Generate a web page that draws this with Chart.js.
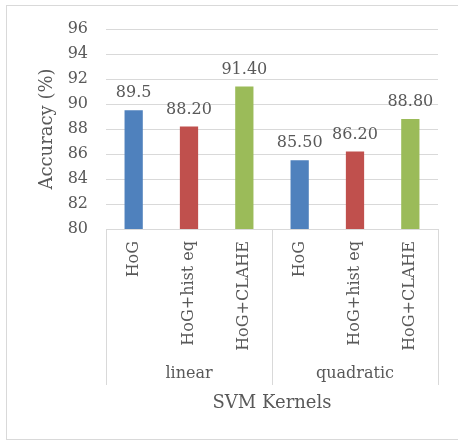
<!DOCTYPE html>
<html>
<head>
<meta charset="utf-8">
<script src="https://cdn.jsdelivr.net/npm/chart.js@4.4.1/dist/chart.umd.min.js"></script>
<style>
  html, body { margin: 0; padding: 0; background: #ffffff; }
  #wrap { width: 458px; height: 441px; }
</style>
</head>
<body>
<div id="wrap"><canvas id="chart" width="458" height="441"></canvas></div>
<script>
// Accuracy of each feature pipeline, grouped by SVM kernel
const kernels = ['linear', 'quadratic'];
const methods = ['HoG', 'HoG+hist eq', 'HoG+CLAHE'];
const categories = ['HoG', 'HoG+hist eq', 'HoG+CLAHE', 'HoG', 'HoG+hist eq', 'HoG+CLAHE'];
const accuracy = [89.5, 88.2, 91.4, 85.5, 86.2, 88.8];
const labelDecimals = [1, 2, 2, 2, 2, 2];
const yTicks = { min: 80, max: 96, step: 2 };

const methodColors = ['#4F81BD', '#C0504D', '#9BBB59'];
const textColor = '#595959';
const lineColor = '#D9D9D9';
const FONT = "'DejaVu Serif', 'Liberation Serif', serif";

// white background and the outer frame
const framePlugin = {
  id: 'frame',
  beforeDraw(chart) {
    const ctx = chart.ctx;
    ctx.save();
    ctx.fillStyle = '#ffffff';
    ctx.fillRect(0, 0, chart.width, chart.height);
    ctx.strokeStyle = lineColor;
    ctx.lineWidth = 1;
    ctx.strokeRect(6.5, 5.5, chart.width + 20, 434);
    ctx.restore();
  }
};

// vertical separators between the kernel groups below the plot
const groupSeparators = {
  id: 'groupSeparators',
  afterDraw(chart) {
    const g = chart.scales.group;
    const ctx = chart.ctx;
    const top = chart.chartArea.bottom;
    const bottom = g.top + 30;
    ctx.save();
    ctx.strokeStyle = lineColor;
    ctx.lineWidth = 1;
    for (let i = 0; i <= kernels.length; i++) {
      const x = Math.round(g.getPixelForValue(i - 0.5)) + 0.5;
      ctx.beginPath();
      ctx.moveTo(x, top);
      ctx.lineTo(x, bottom);
      ctx.stroke();
    }
    ctx.restore();
  }
};

// value labels above each bar
const valueLabels = {
  id: 'valueLabels',
  afterDatasetsDraw(chart) {
    const ctx = chart.ctx;
    const meta = chart.getDatasetMeta(0);
    ctx.save();
    ctx.font = "16px " + FONT;
    ctx.fillStyle = textColor;
    ctx.textAlign = 'center';
    ctx.textBaseline = 'alphabetic';
    meta.data.forEach((bar, i) => {
      const v = chart.data.datasets[0].data[i];
      ctx.fillText(v.toFixed(labelDecimals[i]), bar.x, bar.y - 13);
    });
    ctx.restore();
  }
};

new Chart(document.getElementById('chart'), {
  type: 'bar',
  data: {
    labels: categories,
    datasets: [{
      data: accuracy,
      backgroundColor: categories.map(c => methodColors[methods.indexOf(c)]),
      borderWidth: 0,
      categoryPercentage: 1,
      barPercentage: 0.33
    }]
  },
  options: {
    responsive: false,
    animation: false,
    devicePixelRatio: 1,
    layout: { padding: { top: 29, right: 20, left: 0, bottom: 0 } },
    plugins: {
      legend: { display: false },
      tooltip: { enabled: false }
    },
    scales: {
      x: {
        position: 'bottom',
        grid: { display: false, drawTicks: false },
        border: { display: false },
        ticks: {
          autoSkip: false,
          minRotation: 90,
          maxRotation: 90,
          padding: 12,
          color: textColor,
          font: { family: FONT, size: 16 }
        },
        afterFit(scale) { scale.height = 126; }
      },
      group: {
        type: 'category',
        position: 'bottom',
        labels: kernels,
        offset: true,
        grid: { display: false, drawTicks: false },
        border: { display: false },
        ticks: {
          padding: 9,
          color: textColor,
          font: { family: FONT, size: 16 }
        },
        title: {
          display: true,
          text: 'SVM Kernels',
          color: textColor,
          font: { family: FONT, size: 18 },
          padding: { top: 0, bottom: 27 }
        },
        afterFit(scale) { scale.height = 86; }
      },
      y: {
        min: yTicks.min,
        max: yTicks.max,
        ticks: {
          stepSize: yTicks.step,
          padding: 18,
          color: textColor,
          font: { family: FONT, size: 16 }
        },
        grid: { color: lineColor, drawTicks: false, lineWidth: 1 },
        border: { display: false },
        title: {
          display: true,
          text: 'Accuracy (%)',
          color: textColor,
          font: { family: FONT, size: 18 },
          padding: { top: 37, bottom: 0 }
        },
        afterFit(scale) { scale.width = 106; }
      }
    }
  },
  plugins: [framePlugin, groupSeparators, valueLabels]
});
</script>
</body>
</html>
